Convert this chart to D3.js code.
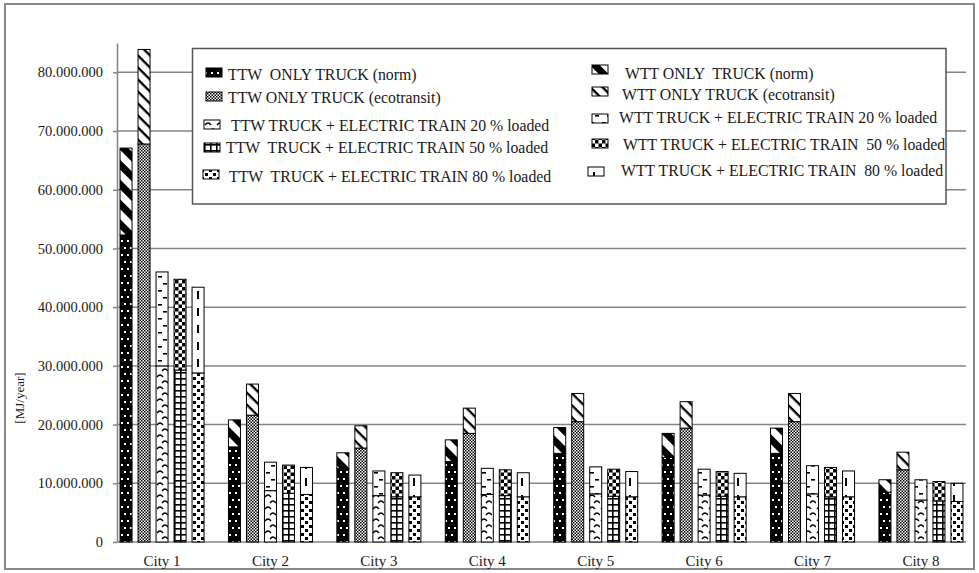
<!DOCTYPE html>
<html><head><meta charset="utf-8">
<script src="https://cdn.jsdelivr.net/npm/d3@7"></script>
<style>
body{margin:0;background:#fff}
text{font-family:"Liberation Serif","Times New Roman",serif;fill:#1a1a1a;white-space:pre}
</style>
</head><body><svg id="c" width="979" height="573" font-family="Liberation Serif, serif"></svg>
<script>
// ---------- data (MJ/year) ----------
const cities = ["City 1","City 2","City 3","City 4","City 5","City 6","City 7","City 8"];
const ttwNorm = [52300000,16200000,12500000,13700000,15100000,14400000,15100000,8500000];
const wttNorm = [14800000,4600000,2700000,3700000,4400000,4100000,4300000,2100000];
const ttwEco  = [67800000,21600000,16000000,18500000,20500000,19400000,20500000,12300000];
const wttEco  = [16100000,5300000,3800000,4300000,4800000,4500000,4800000,3000000];
const ttw20   = [30000000,8750000,7900000,8100000,8200000,8000000,8200000,7150000];
const wtt20   = [16000000,4850000,4200000,4450000,4600000,4400000,4800000,3450000];
const ttw50   = [29300000,8300000,7700000,7900000,7800000,7800000,7700000,7000000];
const wtt50   = [15450000,4800000,4100000,4400000,4600000,4200000,5000000,3300000];
const ttw80   = [28800000,8100000,7700000,7700000,7700000,7700000,7700000,6900000];
const wtt80   = [14600000,4600000,3700000,4100000,4300000,4000000,4400000,3100000];
const yTicks  = [0,10000000,20000000,30000000,40000000,50000000,60000000,70000000,80000000];
const yTitle  = "[MJ/year]";
const legendTTW = ["TTW  ONLY TRUCK (norm)","TTW ONLY TRUCK (ecotransit)","TTW TRUCK + ELECTRIC TRAIN 20 % loaded","TTW  TRUCK + ELECTRIC TRAIN 50 % loaded","TTW  TRUCK + ELECTRIC TRAIN 80 % loaded"];
const legendWTT = ["WTT ONLY  TRUCK (norm)","WTT ONLY TRUCK (ecotransit)","WTT TRUCK + ELECTRIC TRAIN 20 % loaded","WTT TRUCK + ELECTRIC TRAIN  50 % loaded","WTT TRUCK + ELECTRIC TRAIN  80 % loaded"];

// bar groups: [bottom series, top series]
const groups = [
  {ttw: ttwNorm, wtt: wttNorm, pb: "p-ttwNorm", pt: "p-wttNorm"},
  {ttw: ttwEco,  wtt: wttEco,  pb: "p-ttwEco",  pt: "p-wttEco"},
  {ttw: ttw20,   wtt: wtt20,   pb: "p-ttw20",   pt: "p-wtt20"},
  {ttw: ttw50,   wtt: wtt50,   pb: "p-ttw50",   pt: "p-wtt50"},
  {ttw: ttw80,   wtt: wtt80,   pb: "p-ttw80",   pt: "p-wtt80"}
];

// ---------- drawing ----------
const svg = d3.select("#c");
const defs = svg.append("defs");
function pat(id, w, h, bg, draw, tr) {
  const p = defs.append("pattern").attr("id", id).attr("patternUnits", "userSpaceOnUse")
    .attr("width", w).attr("height", h);
  if (tr) p.attr("patternTransform", tr);
  p.append("rect").attr("width", w).attr("height", h).attr("fill", bg);
  draw(p);
}
pat("p-ttwNorm", 6, 14, "#000", p => { p.append("rect").attr("x", 1).attr("y", 2).attr("width", 2).attr("height", 2).attr("fill", "#fff"); p.append("rect").attr("x", 4).attr("y", 9).attr("width", 2).attr("height", 2).attr("fill", "#fff"); });
pat("p-wttNorm", 14, 14, "#fff", p => p.append("rect").attr("width", 14).attr("height", 7).attr("fill", "#000"), "rotate(45)");
pat("p-ttwEco", 3, 3, "#fff", p => { p.append("rect").attr("width", 1.5).attr("height", 1.5).attr("fill", "#000"); p.append("rect").attr("x", 1.5).attr("y", 1.5).attr("width", 1.5).attr("height", 1.5).attr("fill", "#000"); });
pat("p-wttEco", 8.5, 8.5, "#fff", p => p.append("rect").attr("width", 8.5).attr("height", 2.3).attr("fill", "#000"), "rotate(45)");
pat("p-ttw20", 12, 12, "#fff", p => p.append("path").attr("d", "M1,5 Q4,1 7,5 M6,11 Q9,7 12,11").attr("fill", "none").attr("stroke", "#000").attr("stroke-width", 1.3));
pat("p-wtt20", 12, 14, "#fff", p => { p.append("rect").attr("x", 7).attr("y", 3).attr("width", 4).attr("height", 1.6).attr("fill", "#000"); p.append("rect").attr("x", 2).attr("y", 10).attr("width", 4).attr("height", 1.6).attr("fill", "#000"); });
pat("p-ttw50", 6, 6, "#fff", p => { p.append("rect").attr("width", 1.6).attr("height", 6).attr("fill", "#000"); p.append("rect").attr("width", 6).attr("height", 1.6).attr("fill", "#000"); });
pat("p-wtt50", 7, 7, "#fff", p => { p.append("rect").attr("width", 3.5).attr("height", 3.5).attr("fill", "#000"); p.append("rect").attr("x", 3.5).attr("y", 3.5).attr("width", 3.5).attr("height", 3.5).attr("fill", "#000"); });
pat("p-ttw80", 8, 8, "#fff", p => { p.append("rect").attr("x", 1).attr("y", 1).attr("width", 3).attr("height", 3).attr("fill", "#000"); p.append("rect").attr("x", 5).attr("y", 5).attr("width", 3).attr("height", 3).attr("fill", "#000"); });
pat("p-wtt80", 12, 17, "#fff", p => p.append("rect").attr("x", 5).attr("y", 2).attr("width", 2).attr("height", 8).attr("fill", "#000"));

// outer frame
svg.append("rect").attr("x", 5).attr("y", 4).attr("width", 969).attr("height", 565)
  .attr("fill", "none").attr("stroke", "#8a8a8a").attr("stroke-width", 2);

const L = 117, R = 966, B = 542, T = 43;
const y = d3.scaleLinear().domain([0, 85000000]).range([B, T]);
const x0 = d3.scaleBand().domain(cities).range([L, R]).paddingInner(0.225).paddingOuter(0.028);
const x1 = d3.scaleBand().domain(d3.range(groups.length)).range([0, x0.bandwidth()]).paddingInner(1/3).paddingOuter(0);

const gridColor = "#858585";
// gridlines
svg.append("g").selectAll("line").data(yTicks.filter(v => v > 0)).join("line")
  .attr("x1", L).attr("x2", R).attr("y1", d => y(d)).attr("y2", d => y(d))
  .attr("stroke", gridColor).attr("stroke-width", 1.5);

// y axis
const fmt = v => d3.format(",")(v).replace(/,/g, ".");
const ya = svg.append("g").attr("transform", `translate(${L},0)`)
  .call(d3.axisLeft(y).tickValues(yTicks).tickFormat(fmt).tickSize(4).tickSizeOuter(0).tickPadding(10));
ya.attr("font-family", null);
ya.select(".domain").attr("stroke", gridColor).attr("stroke-width", 1.5);
ya.selectAll(".tick line").attr("stroke", gridColor).attr("stroke-width", 1.5);
ya.selectAll("text").style("font-size", "14.5px").attr("fill", "#1a1a1a");

// x axis
svg.append("line").attr("x1", L).attr("x2", R).attr("y1", B).attr("y2", B)
  .attr("stroke", gridColor).attr("stroke-width", 1.5);
const xa = svg.append("g").attr("transform", `translate(0,${B})`)
  .call(d3.axisBottom(x0).tickSize(0).tickPadding(13));
xa.attr("font-family", null);
xa.select(".domain").remove();
xa.selectAll("text").style("font-size", "15px").attr("fill", "#1a1a1a");

// y title
svg.append("text").attr("transform", "translate(24,398) rotate(-90)")
  .attr("text-anchor", "middle").style("font-size", "13px").text(yTitle);

// bars
const bars = svg.append("g");
cities.forEach((c, i) => {
  groups.forEach((g, j) => {
    const xx = x0(c) + x1(j), w = x1.bandwidth();
    const a = g.ttw[i], b = g.wtt[i];
    bars.append("rect").attr("x", xx).attr("width", w)
      .attr("y", y(a)).attr("height", y(0) - y(a))
      .attr("fill", `url(#${g.pb})`).attr("stroke", "#000").attr("stroke-width", 1);
    bars.append("rect").attr("x", xx).attr("width", w)
      .attr("y", y(a + b)).attr("height", y(a) - y(a + b))
      .attr("fill", `url(#${g.pt})`).attr("stroke", "#000").attr("stroke-width", 1);
  });
});

// legend
const lg = svg.append("g");
lg.append("rect").attr("x", 192.5).attr("y", 48.5).attr("width", 753.5).attr("height", 155.5)
  .attr("fill", "#fff").attr("stroke", "#555").attr("stroke-width", 1.5);
const leftRows = [
  {sx: 206, sy: 68, tx: 228, ty: 80},
  {sx: 206, sy: 92, tx: 228, ty: 103},
  {sx: 204, sy: 120, tx: 231, ty: 131},
  {sx: 204, sy: 143, tx: 226, ty: 153},
  {sx: 203, sy: 170, tx: 229, ty: 182}
];
const rightRows = [
  {sx: 592, sy: 65, tx: 625, ty: 79},
  {sx: 592, sy: 87, tx: 622, ty: 100},
  {sx: 592, sy: 114, tx: 619, ty: 123},
  {sx: 592, sy: 139, tx: 623, ty: 150},
  {sx: 588, sy: 167, tx: 621, ty: 176}
];
function legendCol(labels, rows, key) {
  labels.forEach((t, i) => {
    const r = rows[i];
    lg.append("rect").attr("x", r.sx).attr("y", r.sy).attr("width", 16).attr("height", 9)
      .attr("fill", `url(#${groups[i][key]})`).attr("stroke", "#000").attr("stroke-width", 1);
    lg.append("text").attr("x", r.tx).attr("y", r.ty).style("font-size", "15.8px").text(t);
  });
}
legendCol(legendTTW, leftRows, "pb");
legendCol(legendWTT, rightRows, "pt");
</script>
</body></html>
